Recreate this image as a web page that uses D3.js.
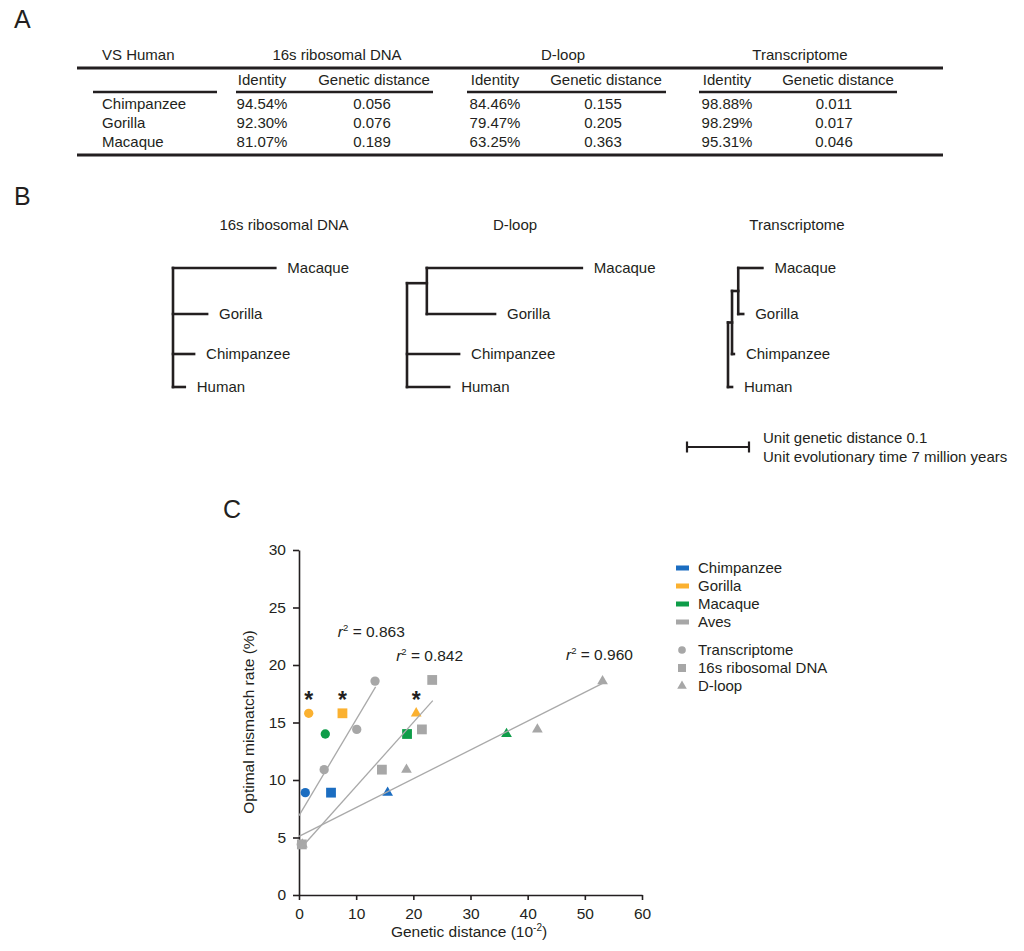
<!DOCTYPE html>
<html><head><meta charset="utf-8">
<script src="https://cdn.jsdelivr.net/npm/d3@7"></script>
<style>
body{margin:0;background:#fff}
svg{display:block}
text{font-family:"Liberation Sans",Arial,Helvetica,sans-serif;fill:#231f20}
</style>
</head><body>
<svg id="fig" width="1024" height="951"></svg>
<script>
// ---------------- DATA ----------------
const species = ["Chimpanzee", "Gorilla", "Macaque"];
const markerNames = ["16s ribosomal DNA", "D-loop", "Transcriptome"];
const identity16s = ["94.54%", "92.30%", "81.07%"];
const distance16s = ["0.056", "0.076", "0.189"];
const identityDloop = ["84.46%", "79.47%", "63.25%"];
const distanceDloop = ["0.155", "0.205", "0.363"];
const identityTx = ["98.88%", "98.29%", "95.31%"];
const distanceTx = ["0.011", "0.017", "0.046"];

// Trees (branch lengths in genetic-distance units)
const tree16s = {children: [
  {name: "Macaque", len: 0.165},
  {name: "Gorilla", len: 0.055},
  {name: "Chimpanzee", len: 0.034},
  {name: "Human", len: 0.019}]};
const treeDloop = {children: [
  {len: 0.032, children: [{name: "Macaque", len: 0.250}, {name: "Gorilla", len: 0.110}]},
  {name: "Chimpanzee", len: 0.084},
  {name: "Human", len: 0.068}]};
const treeTx = {children: [
  {len: 0.0065, children: [
    {len: 0.010, children: [{name: "Macaque", len: 0.039}, {name: "Gorilla", len: 0.008}]},
    {name: "Chimpanzee", len: 0.003}]},
  {name: "Human", len: 0.0065}]};
const taxa = ["Macaque", "Gorilla", "Chimpanzee", "Human"];
const scaleBarUnit = 0.1;
const scaleBarText = ["Unit genetic distance 0.1", "Unit evolutionary time 7 million years"];

// Scatter (panel C)
const primateMismatch = [8.9, 15.8, 14.0];            // Chimpanzee, Gorilla, Macaque
const avesTxX = [0.4, 4.4, 10.1, 13.3];
const avesTxY = [4.4, 10.9, 14.4, 18.6];
const aves16sX = [0.5, 14.5, 21.5, 23.3];
const aves16sY = [4.4, 10.9, 14.4, 18.7];
const avesDloopX = [0.6, 18.8, 41.7, 53.1];
const avesDloopY = [4.4, 10.9, 14.4, 18.6];
const fitTx = [[0, 6.9], [13.4, 18.1]];
const fit16s = [[0.2, 4.0], [23.4, 16.9]];
const fitDloop = [[0, 5.1], [53.1, 18.4]];
const rSquared = ["0.863", "0.842", "0.960"];
const significant = ["Gorilla"];
const xTicks = [0, 10, 20, 30, 40, 50, 60];
const yTicks = [0, 5, 10, 15, 20, 25, 30];
const legendGroups = ["Chimpanzee", "Gorilla", "Macaque", "Aves"];
const legendTypes = ["Transcriptome", "16s ribosomal DNA", "D-loop"];

// ---------------- STYLE ----------------
const INK = "#231f20";
const colors = {Chimpanzee: "#1b6dc1", Gorilla: "#fbb130", Macaque: "#0e9d49", Aves: "#a7a7a7"};
const FS = 15;
const svg = d3.select("#fig");

// Panel letters
[["A", 14, 28], ["B", 14, 205], ["C", 223, 518]].forEach(([t, px, py]) =>
  svg.append("text").attr("x", px).attr("y", py).attr("font-size", 25).text(t));

// ---------------- PANEL A: table ----------------
const A = svg.append("g");
const colLayout = [
  {title: 337, idC: 262, gdH: 374, gdV: 372, line: [236, 433]},
  {title: 563, idC: 495, gdH: 606, gdV: 603, line: [467, 666]},
  {title: 800, idC: 727, gdH: 838, gdV: 834, line: [699, 897]}];
const colData = [
  {id: identity16s, gd: distance16s},
  {id: identityDloop, gd: distanceDloop},
  {id: identityTx, gd: distanceTx}];
const rowY = d3.scalePoint().domain(species).range([104, 141.5]);
const txt = (g, t, px, py, anchor) => g.append("text").attr("x", px).attr("y", py)
  .attr("dy", "0.36em").attr("font-size", FS).attr("text-anchor", anchor || "start").text(t);

txt(A, "VS Human", 102, 55);
A.append("line").attr("x1", 77).attr("x2", 943).attr("y1", 68).attr("y2", 68)
  .attr("stroke", INK).attr("stroke-width", 3);
A.append("line").attr("x1", 77).attr("x2", 943).attr("y1", 155).attr("y2", 155)
  .attr("stroke", INK).attr("stroke-width", 3);
A.append("line").attr("x1", 93).attr("x2", 217).attr("y1", 92).attr("y2", 92)
  .attr("stroke", INK).attr("stroke-width", 2.6);
markerNames.forEach((m, i) => {
  const L = colLayout[i];
  txt(A, m, L.title, 55, "middle");
  txt(A, "Identity", L.idC, 80, "middle");
  txt(A, "Genetic distance", L.gdH, 80, "middle");
  A.append("line").attr("x1", L.line[0]).attr("x2", L.line[1]).attr("y1", 92).attr("y2", 92)
    .attr("stroke", INK).attr("stroke-width", 2.6);
  species.forEach((s, j) => {
    txt(A, colData[i].id[j], L.idC, rowY(s), "middle");
    txt(A, colData[i].gd[j], L.gdV, rowY(s), "middle");
  });
});
species.forEach(s => txt(A, s, 102, rowY(s)));

// ---------------- PANEL B: trees ----------------
const B = svg.append("g");
const tx = d3.scaleLinear().domain([0, 0.1]).range([0, 62]);
const ty = d3.scaleOrdinal().domain(taxa).range([268, 314, 354, 387]);
function drawTree(data, x0, frac, title, titleX) {
  const g = B.append("g");
  txt(g, title, titleX, 225, "middle");
  const root = d3.hierarchy(data);
  root.eachBefore(n => { n.cum = (n.parent ? n.parent.cum : 0) + (n.data.len || 0); n.X = x0 + tx(n.cum); });
  root.eachAfter(n => {
    if (!n.children) n.Y = ty(n.data.name);
    else { const a = n.children[0].Y, b = n.children[n.children.length - 1].Y; n.Y = a + frac * (b - a); }
  });
  const segs = [];
  root.each(n => {
    if (n.children) segs.push([n.X, n.children[0].Y, n.X, n.children[n.children.length - 1].Y]);
    if (n.parent) segs.push([n.parent.X, n.Y, n.X, n.Y]);
  });
  g.selectAll("line").data(segs).join("line")
    .attr("x1", d => d[0]).attr("y1", d => d[1]).attr("x2", d => d[2]).attr("y2", d => d[3])
    .attr("stroke", INK).attr("stroke-width", 2.6).attr("stroke-linecap", "square");
  root.leaves().forEach(n => txt(g, n.data.name, n.X + 12, n.Y));
}
drawTree(tree16s, 173, 0.5, markerNames[0], 284);
drawTree(treeDloop, 407, 0.33, markerNames[1], 515);
drawTree(treeTx, 728, 0.5, markerNames[2], 797);

// scale bar
const sb = B.append("g");
const sbx0 = 687, sby = 447;
sb.append("line").attr("x1", sbx0).attr("x2", sbx0 + tx(scaleBarUnit)).attr("y1", sby).attr("y2", sby)
  .attr("stroke", INK).attr("stroke-width", 2.2);
[sbx0, sbx0 + tx(scaleBarUnit)].forEach(px => sb.append("line").attr("x1", px).attr("x2", px)
  .attr("y1", sby - 5.5).attr("y2", sby + 5.5).attr("stroke", INK).attr("stroke-width", 2.2));
scaleBarText.forEach((t, i) => txt(sb, t, 763, 438 + i * 18.5));

// ---------------- PANEL C: scatter ----------------
const C = svg.append("g");
const x = d3.scaleLinear().domain([0, 60]).range([299, 642]);
const y = d3.scaleLinear().domain([0, 30]).range([895, 550]);

const xAxis = C.append("g").attr("transform", "translate(0,895)")
  .call(d3.axisBottom(x).tickValues(xTicks).tickSize(5).tickSizeOuter(0).tickPadding(8));
const yAxis = C.append("g").attr("transform", "translate(299,0)")
  .call(d3.axisLeft(y).tickValues(yTicks).tickSize(6).tickSizeOuter(0).tickPadding(7));
[xAxis, yAxis].forEach(a => {
  a.select(".domain").attr("stroke", INK).attr("stroke-width", 1.6);
  a.selectAll(".tick line").attr("stroke", INK).attr("stroke-width", 1.6);
  a.selectAll(".tick text").attr("font-size", 15.5).attr("fill", INK)
    .attr("font-family", '"Liberation Sans",Arial,sans-serif');
});

// axis titles
const yt = C.append("text").attr("transform", "translate(254,722) rotate(-90)")
  .attr("text-anchor", "middle").attr("font-size", 15.5).text("Optimal mismatch rate (%)");
const xt = C.append("text").attr("x", 469).attr("y", 937).attr("text-anchor", "middle").attr("font-size", 15.5);
xt.append("tspan").text("Genetic distance (10");
xt.append("tspan").attr("dy", -6).attr("font-size", 10).text("-2");
xt.append("tspan").attr("dy", 6).text(")");

// symbols
const shapeOf = {"Transcriptome": d3.symbolCircle, "16s ribosomal DNA": d3.symbolSquare, "D-loop": d3.symbolTriangle};
const sizeOf = {"Transcriptome": 68, "16s ribosomal DNA": 96, "D-loop": 50};
const legendSize = {"Transcriptome": 46, "16s ribosomal DNA": 64, "D-loop": 40};

const points = [];
const aves = {"Transcriptome": [avesTxX, avesTxY], "16s ribosomal DNA": [aves16sX, aves16sY], "D-loop": [avesDloopX, avesDloopY]};
Object.keys(aves).forEach(k => aves[k][0].forEach((v, i) => points.push({type: k, group: "Aves", gx: v, gy: aves[k][1][i]})));
const primateGD = {"Transcriptome": distanceTx, "16s ribosomal DNA": distance16s, "D-loop": distanceDloop};
Object.keys(primateGD).forEach(k => species.forEach((s, i) =>
  points.push({type: k, group: s, gx: +primateGD[k][i] * 100, gy: primateMismatch[i]})));

C.append("g").selectAll("path").data(points).join("path")
  .attr("transform", d => `translate(${x(d.gx)},${y(d.gy)})`)
  .attr("d", d => d3.symbol().type(shapeOf[d.type]).size(sizeOf[d.type])())
  .attr("fill", d => colors[d.group]);

// fit lines
const fits = [fitTx, fit16s, fitDloop];
C.append("g").selectAll("line").data(fits).join("line")
  .attr("x1", d => x(d[0][0])).attr("y1", d => y(d[0][1]))
  .attr("x2", d => x(d[1][0])).attr("y2", d => y(d[1][1]))
  .attr("stroke", "#a9a9a9").attr("stroke-width", 1.3);

// r^2 labels
const rPos = [[6.8, 22.43], [17.0, 20.39], [46.7, 20.43]];
rSquared.forEach((r, i) => {
  const t = C.append("text").attr("x", x(rPos[i][0])).attr("y", y(rPos[i][1])).attr("font-size", 15.5);
  t.append("tspan").attr("font-style", "italic").text("r");
  t.append("tspan").attr("dy", -6).attr("font-size", 9.5).text("2");
  t.append("tspan").attr("dy", 6).text(" = " + r);
});

// significance asterisks
points.filter(d => significant.includes(d.group)).forEach(d =>
  C.append("text").attr("x", x(d.gx)).attr("y", y(d.gy) - 5).attr("text-anchor", "middle")
    .attr("font-size", 23).attr("font-weight", "bold").text("*"));

// legend
const lg = C.append("g");
const ly1 = d3.scalePoint().domain(legendGroups).range([568, 622]);
legendGroups.forEach(gname => {
  lg.append("rect").attr("x", 676).attr("y", ly1(gname) - 2.5).attr("width", 13).attr("height", 5)
    .attr("fill", colors[gname]);
  txt(lg, gname, 698, ly1(gname));
});
const ly2 = d3.scalePoint().domain(legendTypes).range([650, 686]);
legendTypes.forEach(tn => {
  lg.append("path").attr("transform", `translate(682,${ly2(tn)})`)
    .attr("d", d3.symbol().type(shapeOf[tn]).size(legendSize[tn])()).attr("fill", colors.Aves);
  txt(lg, tn, 698, ly2(tn));
});
</script>
</body></html>
